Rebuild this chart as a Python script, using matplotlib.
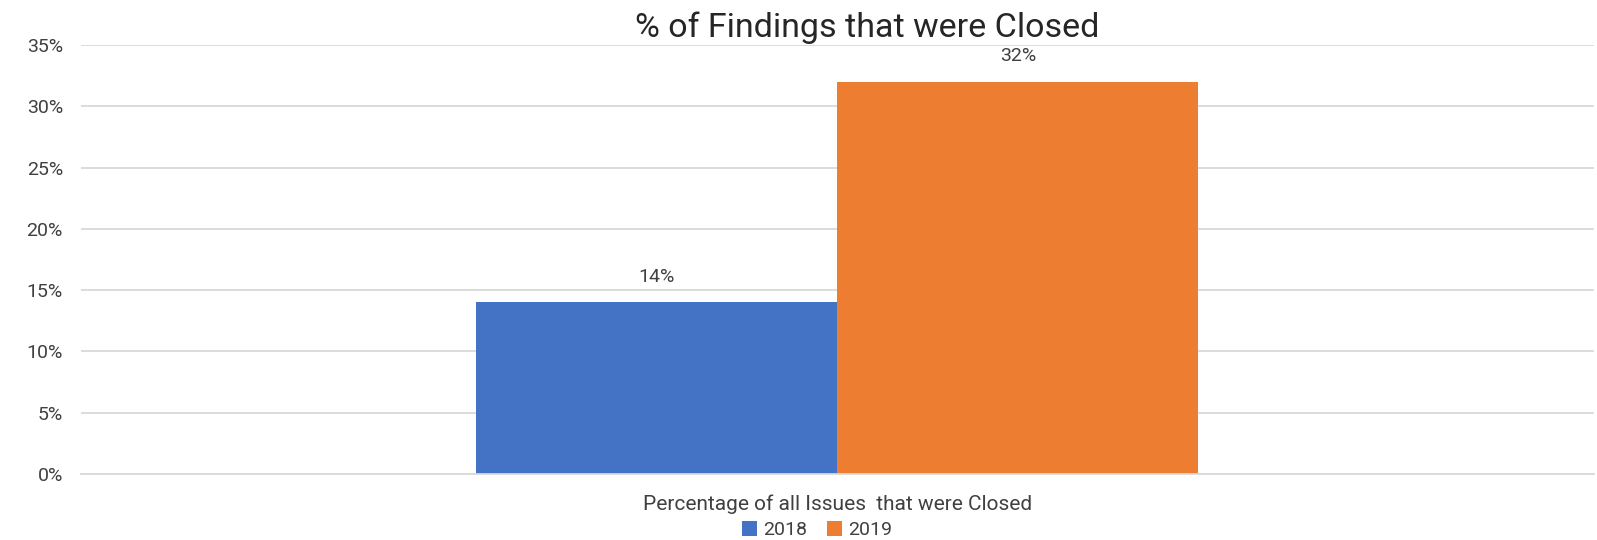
import matplotlib.pyplot as plt
from matplotlib.ticker import PercentFormatter

# 数据
category = ["Percentage of all Issues  that were Closed"]
years = ["2018", "2019"]
values = [14, 32]
colors = ["#4472C4", "#ED7D31"]

plt.rcParams['font.family'] = ['Roboto', 'DejaVu Sans']
text_color = "#404040"

fig = plt.figure(figsize=(15.97, 5.4), dpi=100)
ax = fig.add_axes([0.0507, 0.1222, 0.9473, 0.7945])

bar_w = 0.2386
offsets = [-bar_w / 2, bar_w / 2]
for year, val, col, off in zip(years, values, colors, offsets):
    bars = ax.bar(0 + off, val, width=bar_w, color=col, label=year, zorder=2)
    ax.bar_label(bars, labels=[f"{val}%"], padding=12, fontsize=14,
                 color=text_color)

ax.set_xlim(-0.5, 0.5)
ax.set_ylim(0, 35)
ax.set_yticks(range(0, 36, 5))
ax.yaxis.set_major_formatter(PercentFormatter(decimals=0))
ax.set_xticks([0])
ax.set_xticklabels(category)

# 网格线和边框
ax.grid(axis='y', color='#D9D9D9', linewidth=1.3, zorder=0)
for s in ['top', 'right', 'left']:
    ax.spines[s].set_visible(False)
ax.spines['bottom'].set_color('#D9D9D9')
ax.spines['bottom'].set_linewidth(1.3)
ax.tick_params(axis='both', length=0, labelsize=14, colors=text_color)
ax.tick_params(axis='y', pad=13)
ax.tick_params(axis='x', pad=15, labelsize=15)

fig.text(0.543, 0.948, "% of Findings that were Closed", ha='center', va='center',
         fontsize=24.5, color='#262626')

leg = fig.legend(loc='center', bbox_to_anchor=(0.5115, 0.018), ncol=2, frameon=False,
                 fontsize=14, handlelength=0.8, handleheight=0.8, handletextpad=0.3,
                 columnspacing=1.0, borderpad=0)
for t in leg.get_texts():
    t.set_color(text_color)

fig.savefig("out.png", dpi=100)
